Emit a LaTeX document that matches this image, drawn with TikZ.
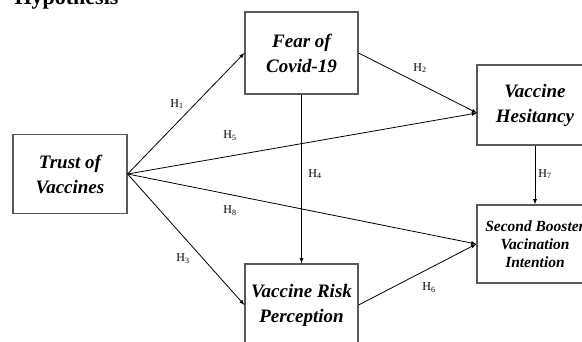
\documentclass[tikz,border=0pt]{standalone}
\usepackage{fontspec}
\setmainfont{Liberation Serif}
\begin{document}
\begin{tikzpicture}[x=1pt,y=-1pt,
    construct/.style={draw=black!65, line width=1.2pt, fill=white, align=center, inner sep=0pt,
        font=\bfseries\itshape\fontsize{19}{25}\selectfont},
    hyp/.style={font=\fontsize{12}{14}\selectfont},
    path/.style={line width=0.8pt, -latex}]
    \path[use as bounding box] (0,0) rectangle (582,342);
    \clip (0,0) rectangle (582,342);

    \node[anchor=base west, font=\bfseries\fontsize{22}{24}\selectfont] (title) at (11,5) {Hypothesis};

    \node[construct, minimum width=114pt, minimum height=79pt] (trust) at (70, 174) {Trust of\\Vaccines};
    \node[construct, minimum width=113pt, minimum height=82pt] (fear) at (301.5, 53) {Fear of\\Covid-19};
    \node[construct, minimum width=113pt, minimum height=82pt] (risk) at (301.5, 305) {Vaccine Risk\\Perception};
    \node[construct, minimum width=116pt, minimum height=80pt] (hes) at (535, 105) {Vaccine\\Hesitancy};
    \node[construct, minimum width=116pt, minimum height=78pt,
        font=\bfseries\itshape\fontsize{15.5}{18}\selectfont] (boost) at (535, 244) {Second Booster\\Vacination\\Intention};

    \coordinate (hesin) at (477, 113);

    \draw[path] (trust.east) -- (fear.west);
    \draw[path] (trust.east) -- (hesin);
    \draw[path] (trust.east) -- (boost.west);
    \draw[path] (trust.east) -- (risk.west);
    \draw[path] (fear.east) -- (hesin);
    \draw[path] (fear.south) -- (risk.north);
    \draw[path] (risk.east) -- (boost.west);
    \draw[path] (hes.south) -- (boost.north);

    \node[hyp] (h1) at (177, 104) {H\textsubscript{1}};
    \node[hyp] (h2) at (420, 68) {H\textsubscript{2}};
    \node[hyp] (h3) at (183, 259) {H\textsubscript{3}};
    \node[hyp] (h4) at (315, 174) {H\textsubscript{4}};
    \node[hyp] (h5) at (230, 136) {H\textsubscript{5}};
    \node[hyp] (h6) at (429, 288) {H\textsubscript{6}};
    \node[hyp] (h7) at (545, 174) {H\textsubscript{7}};
    \node[hyp] (h8) at (230, 211) {H\textsubscript{8}};
\end{tikzpicture}
\end{document}
